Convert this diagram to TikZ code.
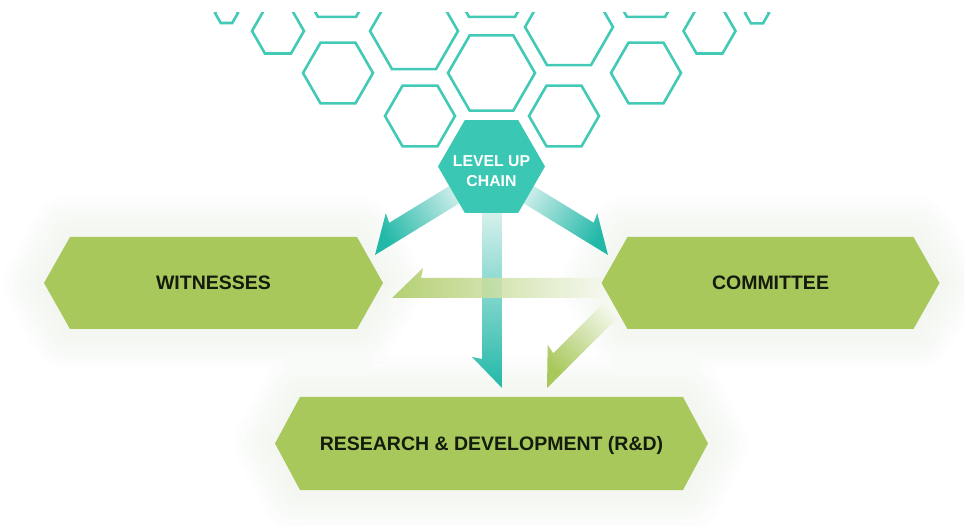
\documentclass[tikz,border=0pt]{standalone}
\usepackage{fontspec}
\setmainfont{Liberation Sans}
\usetikzlibrary{calc,shapes.geometric}
\definecolor{hexline}{RGB}{66,202,182}
\definecolor{hexfill}{RGB}{58,200,180}
\definecolor{tealA}{RGB}{34,184,168}
\definecolor{tealL}{RGB}{225,244,241}
\definecolor{boxgreen}{RGB}{168,200,92}
\definecolor{greenL}{RGB}{246,249,240}
\definecolor{txtdark}{RGB}{20,28,14}
\definecolor{glowc}{RGB}{232,236,226}
\pgfdeclarelayer{glowlayer}
\pgfdeclarelayer{arrowlayer}
\pgfdeclarelayer{boxlayer}
\pgfsetlayers{glowlayer,arrowlayer,boxlayer,main}
% harpoon arrow: #1 tip, #2 direction angle, #3 length, #4 side offset angle, #5 style
\newcommand\harp[5]{%
  \path[#5] (#1) -- ($(#1)+({#2+180}:#3)$)
    -- ($(#1)+({#2+180}:#3)+({#2+(#4)}:20)$)
    -- ($(#1)+({#2+180}:29)+({#2+(#4)}:20)$)
    -- ($(#1)+({#2+180}:31)+({#2+(#4)}:30)$) -- cycle;}
% green box: #1 node, #2 half flat width, #3 half height, #4 point depth
\newcommand\gbox[4]{%
  \begin{pgfonlayer}{glowlayer}
  \foreach \gw in {10,20,...,80}{
    \draw[glowc, line width=\gw, line join=round, opacity=0.06]
      ($(#1)+(-#2-#4,0)$) -- ($(#1)+(-#2,#3)$) -- ($(#1)+(#2,#3)$) -- ($(#1)+(#2+#4,0)$)
      -- ($(#1)+(#2,-#3)$) -- ($(#1)+(-#2,-#3)$) -- cycle;}
  \end{pgfonlayer}
  \begin{pgfonlayer}{boxlayer}
    \fill[boxgreen]
      ($(#1)+(-#2-#4,0)$) -- ($(#1)+(-#2,#3)$) -- ($(#1)+(#2,#3)$) -- ($(#1)+(#2+#4,0)$)
      -- ($(#1)+(#2,-#3)$) -- ($(#1)+(-#2,-#3)$) -- cycle;
  \end{pgfonlayer}}
\tikzset{
  hexo/.style={draw=hexline, line width=2.6},
  boxtext/.style={text=txtdark, font=\fontsize{19.5}{23}\selectfont\bfseries, inner sep=0, text height=14, text depth=0},
  lvltext/.style={text=white, font=\fontsize{15.8}{20}\selectfont\bfseries, inner sep=0},
}
\begin{document}
\begin{tikzpicture}[x=1pt,y=1pt]
\useasboundingbox (0,0) rectangle (964,-526);
\begin{pgfonlayer}{glowlayer}
\fill[white] (0,0) rectangle (964,-526);
\end{pgfonlayer}

% honeycomb
\begin{scope}
\clip (0,-13) rectangle (964,-160);
\foreach \hx/\hy/\hr in {226.5/13/11.5, 278/31/26, 337/-16/38, 338/73/35, 414/31/44,
   420/116/35, 491.5/73/43.5, 492/-23/46, 569/27/44, 564/116/35, 646/73/35,
   646/-16/38, 709.5/31/26, 757/13/12}{
  \draw[hexo] (\hx,-\hy) ++(0:\hr) -- ++(120:\hr) -- ++(180:\hr) -- ++(240:\hr)
     -- ++(300:\hr) -- ++(0:\hr) -- cycle;
}
\end{scope}

% nodes
\node[regular polygon, regular polygon sides=6, minimum size=107, inner sep=0, fill=hexfill] (lvl) at (491.5,-166.5) {};
\node[lvltext, anchor=base] (lvlA) at (491.5,-167) {LEVEL UP};
\node[lvltext, anchor=base] (lvlB) at (491.5,-187) {CHAIN};
\node[boxtext] (wit) at (213.5,-283) {WITNESSES};
\node[boxtext] (com) at (770.5,-283) {COMMITTEE};
\node[boxtext] (rd) at (491.5,-443.5) {RESEARCH \& DEVELOPMENT (R\&D)};

\gbox{wit}{143.5}{46}{26}
\gbox{com}{143}{46}{26}
\gbox{rd}{191.5}{46.5}{25}

% arrow tips
\coordinate (t1) at ($(wit)+(161.5,28)$);
\coordinate (t2) at ($(com)+(-162.5,28)$);
\coordinate (t3) at ($(rd)+(10.5,55.5)$);
\coordinate (g1) at ($(wit)+(178.5,-15)$);
\coordinate (g2) at ($(rd)+(55.5,55.5)$);

\begin{pgfonlayer}{arrowlayer}
\harp{t1}{211.5}{120}{-90}{top color=tealA, bottom color=tealL, shading angle=121.5}
\harp{t2}{-31.5}{120}{90}{top color=tealA, bottom color=tealL, shading angle=-121.5}
\harp{t3}{270}{188}{-90}{top color=tealA, bottom color=tealL, shading angle=180}
\harp{g1}{180}{215}{-90}{top color=boxgreen, bottom color=greenL, shading angle=90, fill opacity=0.85}
\harp{g2}{225}{110}{-90}{top color=boxgreen, bottom color=greenL, shading angle=135}
\end{pgfonlayer}
\end{tikzpicture}
\end{document}
